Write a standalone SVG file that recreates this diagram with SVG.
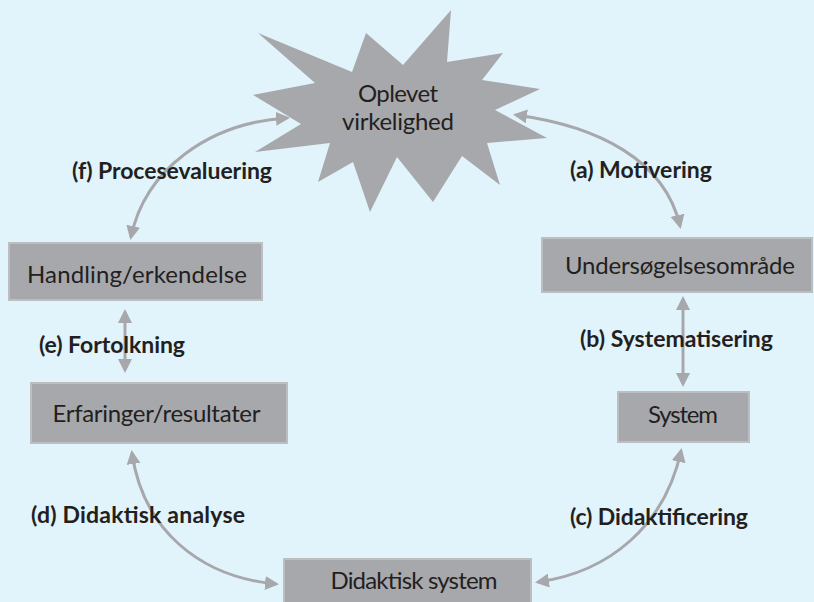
<svg xmlns="http://www.w3.org/2000/svg" width="814" height="602" viewBox="0 0 814 602">
<defs>
<style>
.bg{fill:#e1f3fb}
.box{fill:#a7a8ac;stroke:#bdbec2;stroke-width:2}
.star{fill:#a7a8ac}
.t{font-family:Lato,"Open Sans","Liberation Sans",sans-serif;font-size:24px;fill:#231f20;text-anchor:middle}
.lb{font-family:Lato,"Open Sans","Liberation Sans",sans-serif;font-size:23px;font-weight:bold;fill:#231f20}
.c{fill:none;stroke:#a7a8ac;stroke-width:3;marker-start:url(#ah);marker-end:url(#ah)}
</style>
<marker id="ah" viewBox="0 0 14 14" refX="11" refY="7" markerWidth="14" markerHeight="14" markerUnits="userSpaceOnUse" orient="auto-start-reverse">
<path d="M0,0 L14,7 L0,14 z" fill="#a7a8ac"/>
</marker>
</defs>
<rect class="bg" x="0" y="0" width="814" height="602"/>
<g id="connectors">
<path id="f" class="c" d="M287,118 C208,123 145,170 131,237"/>
<path id="a" class="c" d="M516,115 C598,126 665,160 680,226"/>
<path id="e" class="c" d="M125,312 L125,370"/>
<path id="b" class="c" d="M683,299 L683,384"/>
<path id="d" class="c" d="M132,453 C143,530 200,577 276,584"/>
<path id="c" class="c" d="M681,451 C665,525 610,572 538,582"/>
</g>
<g id="labels">
<text class="lb" x="72" y="179" textLength="200" lengthAdjust="spacing">(f) Procesevaluering</text>
<text class="lb" x="570" y="178" textLength="142" lengthAdjust="spacing">(a) Motivering</text>
<text class="lb" x="39" y="353" textLength="146" lengthAdjust="spacing">(e) Fortolkning</text>
<text class="lb" x="580" y="347" textLength="193" lengthAdjust="spacing">(b) Systematisering</text>
<text class="lb" x="31" y="523" textLength="214" lengthAdjust="spacing">(d) Didaktisk analyse</text>
<text class="lb" x="570" y="525" textLength="178" lengthAdjust="spacing">(c) Didaktificering</text>
</g>
<g id="n-oplevet">
<polygon class="star" points="258,33 352,72 366,33 403,65 451,10 447,62 503,53 482,80 540,89 495,110 547,138 487,143 500,185 462,156 433,202 397,157 370,212 353,162 318,182 330,143 255,152 301,124 253,95 315,83"/>
<text class="t" x="398" y="102" textLength="80" lengthAdjust="spacing">Oplevet</text>
<text class="t" x="398" y="130" textLength="112" lengthAdjust="spacing">virkelighed</text>
</g>
<g id="n-handling">
<rect class="box" x="9" y="243" width="253" height="57"/>
<text class="t" x="137" y="283" textLength="220" lengthAdjust="spacing">Handling/erkendelse</text>
</g>
<g id="n-erfaringer">
<rect class="box" x="31" y="383" width="256" height="60"/>
<text class="t" x="156.5" y="422" textLength="208" lengthAdjust="spacing">Erfaringer/resultater</text>
</g>
<g id="n-undersoegelse">
<rect class="box" x="542" y="238" width="270" height="54"/>
<text class="t" x="680" y="274" textLength="230" lengthAdjust="spacing">Undersøgelsesområde</text>
</g>
<g id="n-system">
<rect class="box" x="618" y="392" width="131" height="50"/>
<text class="t" x="683" y="423" textLength="70" lengthAdjust="spacing">System</text>
</g>
<g id="n-didaktisk">
<rect class="box" x="284" y="559" width="247" height="50"/>
<text class="t" x="414" y="589" textLength="167" lengthAdjust="spacing">Didaktisk system</text>
</g>
</svg>
